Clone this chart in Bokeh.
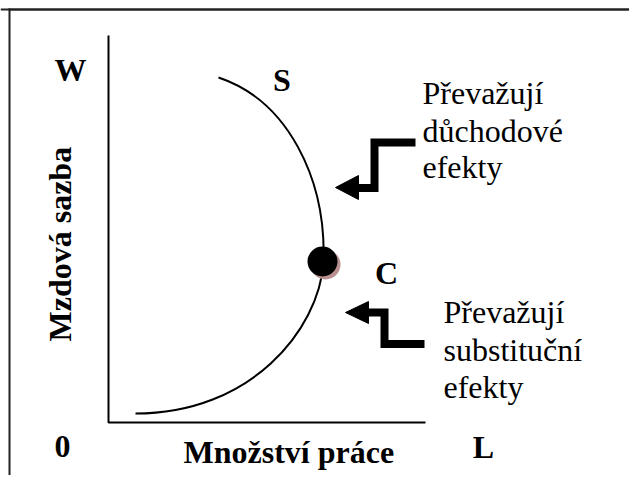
from bokeh.plotting import figure
from bokeh.models import Range1d, Span
from bokeh.core.properties import value
from bokeh.embed import file_html
from bokeh.resources import INLINE

# ---- data (in picture coordinates: x to the right, y downward) ----
frame_left = [8, 8]
frame_right = [629, 10]
frame_top = [8, 8]
frame_bottom = [10, 475]

axis_x = [108, 108, 425]
axis_y = [35, 422, 422]

# supply curve S: two cubic Bezier pieces (start, ctrl1, ctrl2, end)
upper_curve = [(218, 77), (287, 100), (326, 178), (323, 262)]
lower_curve = [(323, 262), (318, 330), (250, 413), (135, 413)]

point_c = (322, 261)

bold_labels = ["W", "S", "C", "0", "L"]
bold_x = [70, 281.5, 386, 62, 483]
bold_y = [80, 90, 283, 457, 457]

x_title = "Množství práce"
y_title = "Mzdová sazba"

note1_lines = ["Převažují", "důchodové", "efekty"]
note1_y = [103, 141, 177]
note2_lines = ["Převažují", "substituční", "efekty"]
note2_y = [322, 360, 397]

arrow1_path_x = [415, 374, 374, 355]
arrow1_path_y = [142, 142, 187.5, 187.5]
arrow1_head = ([335, 358, 358], [187, 175, 199])

arrow2_path_x = [366, 384, 384, 424]
arrow2_path_y = [312, 312, 343.5, 343.5]
arrow2_head = ([345, 368, 368], [312, 301, 323])

SERIF = "Liberation Serif"
DY = -11  # baseline correction

p = figure(width=629, height=475, output_backend="svg", toolbar_location=None,
           x_range=Range1d(0, 629), y_range=Range1d(475, 0), min_border=0)
p.axis.visible = False
p.grid.visible = False
p.outline_line_color = None
p.background_fill_color = "white"
p.border_fill_color = "white"

# frame
p.quad(left=frame_left, right=frame_right, top=frame_top, bottom=frame_bottom,
       fill_color="#222222", line_color=None)
p.add_layout(Span(location=frame_top[0] + 1, dimension="width", line_color="#222222", line_width=2))
# axes
p.line(axis_x, axis_y, line_color="black", line_width=2)

# curve
for seg in (upper_curve, lower_curve):
    p.bezier(x0=[seg[0][0]], y0=[seg[0][1]], cx0=[seg[1][0]], cy0=[seg[1][1]],
             cx1=[seg[2][0]], cy1=[seg[2][1]], x1=[seg[3][0]], y1=[seg[3][1]],
             line_color="black", line_width=2)

# point C with shadow
p.scatter([point_c[0] + 3], [point_c[1] + 3], size=30, marker="circle",
          fill_color="#b89090", line_color=None)
p.scatter([point_c[0]], [point_c[1]], size=30, marker="circle",
          fill_color="black", line_color=None)

# arrows
p.line(arrow1_path_x, arrow1_path_y, line_color="black", line_width=8, line_join="miter")
p.patch(arrow1_head[0], arrow1_head[1], fill_color="black", line_color="black", line_width=1)
p.line(arrow2_path_x, arrow2_path_y, line_color="black", line_width=8, line_join="miter")
p.patch(arrow2_head[0], arrow2_head[1], fill_color="black", line_color="black", line_width=1)

# bold labels
p.text(bold_x, [v + DY for v in bold_y], text=bold_labels, text_font=value(SERIF), text_font_style="bold",
       text_font_size="32px", text_align="center", text_baseline="alphabetic", text_color="black")
p.text([183], [462 + DY], text=[x_title], text_font=value(SERIF), text_font_style="bold",
       text_font_size="32px", text_align="left", text_baseline="alphabetic", text_color="black")
p.text([70 + DY], [341], text=[y_title], angle=90, angle_units="deg", text_font=value(SERIF),
       text_font_style="bold", text_font_size="32px", text_align="left",
       text_baseline="alphabetic", text_color="black")

# notes
p.text([422] * 3, [v + DY for v in note1_y], text=note1_lines, text_font=value(SERIF), text_font_size="32px",
       text_font_style="normal", text_align="left", text_baseline="alphabetic", text_color="black")
p.text([443] * 3, [v + DY for v in note2_y], text=note2_lines, text_font=value(SERIF), text_font_size="32px",
       text_font_style="normal", text_align="left", text_baseline="alphabetic", text_color="black")

open("out.html", "w").write(file_html(p, INLINE))
